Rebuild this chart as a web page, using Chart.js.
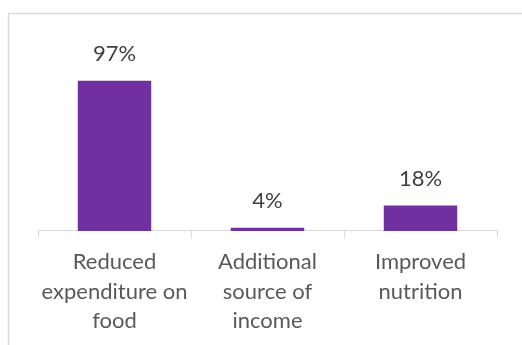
<!doctype html>
<html>
<head>
	<title>Benefits</title>
	<script src="https://cdn.jsdelivr.net/npm/chart.js@4"></script>
	<style>
	body { margin: 0; background: #fff; }
	</style>
</head>
<body>
	<canvas id="canvas" width="522" height="345"></canvas>
	<script>
		var categories = [
			['Reduced', 'expenditure on', 'food'],
			['Additional', 'source of', 'income'],
			['Improved', 'nutrition']
		];
		var values = [97, 4, 18];
		var labelFont = 'Lato, "Open Sans", sans-serif';

		// outer frame + white background
		var frame = {
			id: 'frame',
			beforeDraw: function(chart) {
				var ctx = chart.ctx;
				ctx.save();
				ctx.fillStyle = '#fff';
				ctx.fillRect(0, 0, chart.width, chart.height);
				ctx.strokeStyle = '#D9D9D9';
				ctx.lineWidth = 1.5;
				ctx.strokeRect(8.5, 13.5, 700, 500);
				ctx.restore();
			}
		};

		// value labels above the bars
		var valueLabels = {
			id: 'valueLabels',
			afterDatasetsDraw: function(chart) {
				var ctx = chart.ctx;
				var meta = chart.getDatasetMeta(0);
				ctx.save();
				ctx.font = '22px ' + labelFont;
				ctx.fillStyle = '#404040';
				ctx.textAlign = 'center';
				ctx.textBaseline = 'middle';
				meta.data.forEach(function(bar, i) {
					ctx.fillText(values[i] + '%', bar.x, bar.y - 27);
				});
				ctx.restore();
			}
		};

		window.onload = function() {
			var ctx = document.getElementById('canvas').getContext('2d');
			window.myBar = new Chart(ctx, {
				type: 'bar',
				data: {
					labels: categories,
					datasets: [{
						data: values,
						backgroundColor: '#7030A0',
						barPercentage: 0.48,
						categoryPercentage: 1
					}]
				},
				options: {
					responsive: false,
					animation: false,
					layout: {
						padding: {left: 38, right: 25, top: 76, bottom: 0}
					},
					plugins: {
						legend: {display: false},
						tooltip: {enabled: false}
					},
					scales: {
						x: {
							grid: {
								offset: true,
								drawOnChartArea: false,
								tickLength: 7,
								color: '#D9D9D9'
							},
							border: {color: '#D9D9D9'},
							ticks: {
								color: '#595959',
								padding: 10,
								maxRotation: 0,
								font: {family: labelFont, size: 22, lineHeight: 1.32}
							}
						},
						y: {
							display: false,
							min: 2,
							max: 100
						}
					}
				},
				plugins: [frame, valueLabels]
			});
		};
	</script>
</body>
</html>
